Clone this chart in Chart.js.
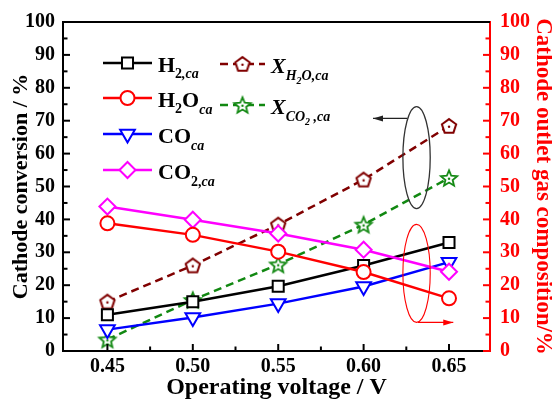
<!DOCTYPE html>
<html>
<head>
<meta charset="utf-8">
<script src="https://cdn.jsdelivr.net/npm/chart.js@4.4.0/dist/chart.umd.min.js"></script>
<style>
html, body { margin: 0; padding: 0; background: #fff; }
</style>
</head>
<body>
<canvas id="c" width="552" height="403"></canvas>
<script>
// operating voltage / V
let voltage = [0.45, 0.50, 0.55, 0.60, 0.65];
let xTicks = [0.45, 0.50, 0.55, 0.60, 0.65];

// cathode outlet gas composition / % (right axis)
let h2_ca = [11.0, 15.0, 19.7, 26.0, 33.0];
let h2o_ca = [38.8, 35.3, 30.2, 24.0, 16.0];
let co_ca = [6.5, 10.2, 14.4, 19.6, 27.0];
let co2_ca = [43.9, 39.9, 35.7, 30.8, 24.1];

// cathode conversion / % (left axis)
let x_h2o = [15.0, 26.0, 38.4, 52.1, 68.4];
let x_co2 = [3.5, 15.5, 26.3, 38.4, 52.6];

let serif = "'Liberation Serif', 'Times New Roman', serif";

// open pentagon with a dot, like the origin plot marker
function pentagon(color) {
    let c = document.createElement('canvas');
    c.width = 20; c.height = 20;
    let g = c.getContext('2d');
    g.beginPath();
    for (let i = 0; i < 5; i++) {
        let a = -Math.PI / 2 + i * 2 * Math.PI / 5;
        let px = 10 + 7.5 * Math.cos(a), py = 10.6 + 7.5 * Math.sin(a);
        if (i === 0) g.moveTo(px, py); else g.lineTo(px, py);
    }
    g.closePath();
    g.fillStyle = '#fff'; g.fill();
    g.lineWidth = 2; g.strokeStyle = color; g.stroke();
    g.beginPath(); g.arc(10, 10.8, 1.2, 0, 2 * Math.PI);
    g.fillStyle = color; g.fill();
    return c;
}

// open star with a dot
function star(color) {
    let c = document.createElement('canvas');
    c.width = 22; c.height = 22;
    let g = c.getContext('2d');
    g.beginPath();
    for (let i = 0; i < 10; i++) {
        let a = -Math.PI / 2 + i * Math.PI / 5;
        let r = (i % 2 === 0) ? 8.5 : 3.8;
        let px = 11 + r * Math.cos(a), py = 11.8 + r * Math.sin(a);
        if (i === 0) g.moveTo(px, py); else g.lineTo(px, py);
    }
    g.closePath();
    g.fillStyle = '#fff'; g.fill();
    g.lineWidth = 1.8; g.strokeStyle = color; g.stroke();
    g.beginPath(); g.arc(11, 11.8, 1.2, 0, 2 * Math.PI);
    g.fillStyle = color; g.fill();
    return c;
}

function pts(values) {
    return values.map((v, i) => ({ x: voltage[i], y: v }));
}

let datasets = [
    { label: 'H2,ca', data: pts(h2_ca), yAxisID: 'y2', borderColor: '#000', pointStyle: 'rect', pointRadius: 7.8, order: 4 },
    { label: 'H2Oca', data: pts(h2o_ca), yAxisID: 'y2', borderColor: '#ff0000', pointStyle: 'circle', pointRadius: 7, order: 1 },
    { label: 'COca', data: pts(co_ca), yAxisID: 'y2', borderColor: '#0000ff', pointStyle: 'triangle', pointRotation: 180, pointRadius: 8.5, order: 3 },
    { label: 'CO2,ca', data: pts(co2_ca), yAxisID: 'y2', borderColor: '#ff00ff', pointStyle: 'rectRot', pointRadius: 8, order: 2 },
    { label: 'XH2O,ca', data: pts(x_h2o), yAxisID: 'y', borderColor: '#800000', pointStyle: pentagon('#800000'), borderDash: [8, 5], order: 6 },
    { label: 'XCO2,ca', data: pts(x_co2), yAxisID: 'y', borderColor: '#118811', pointStyle: star('#118811'), borderDash: [8, 5], order: 5 }
];
datasets.forEach(d => {
    d.borderWidth = 2.5;
    d.backgroundColor = '#fff';
    d.pointBackgroundColor = '#fff';
    d.pointBorderColor = d.borderColor;
    d.pointBorderWidth = 2;
    d.tension = 0;
});

// ticks drawn inside the frame, with minor ticks between
function drawTicks(ctx, scale, values, minors, side, color) {
    let a = scale.chart.chartArea;
    ctx.save();
    ctx.strokeStyle = color;
    ctx.lineWidth = 2;
    let all = values.map(v => [v, 7]).concat(minors.map(v => [v, 4.5]));
    all.forEach(([v, len]) => {
        let p = scale.getPixelForValue(v);
        ctx.beginPath();
        if (side === 'left') { ctx.moveTo(a.left, p); ctx.lineTo(a.left + len, p); }
        if (side === 'right') { ctx.moveTo(a.right, p); ctx.lineTo(a.right - len, p); }
        if (side === 'bottom') { ctx.moveTo(p, a.bottom); ctx.lineTo(p, a.bottom - len); }
        ctx.stroke();
    });
    ctx.restore();
}

let frame = {
    id: 'frame',
    afterDraw(chart) {
        let ctx = chart.ctx, a = chart.chartArea;
        let yVals = chart.scales.y.ticks.map(t => t.value);
        let yMinor = yVals.slice(0, -1).map(v => v + 5);
        drawTicks(ctx, chart.scales.y, yVals, yMinor, 'left', '#000');
        drawTicks(ctx, chart.scales.y2, yVals, yMinor, 'right', '#ff0000');
        let xMinor = xTicks.slice(0, -1).map(v => v + 0.025);
        drawTicks(ctx, chart.scales.x, xTicks, xMinor, 'bottom', '#000');
        // top border
        ctx.save();
        ctx.strokeStyle = '#000';
        ctx.lineWidth = 2;
        ctx.beginPath();
        ctx.moveTo(a.left - 1, a.top);
        ctx.lineTo(a.right, a.top);
        ctx.stroke();
        ctx.restore();
    }
};

// ovals and arrows telling which axis each group uses
function arrow(ctx, x1, y1, x2, y2, color) {
    let ang = Math.atan2(y2 - y1, x2 - x1);
    ctx.strokeStyle = color;
    ctx.fillStyle = color;
    ctx.lineWidth = 1.3;
    ctx.beginPath(); ctx.moveTo(x1, y1); ctx.lineTo(x2, y2); ctx.stroke();
    ctx.beginPath();
    ctx.moveTo(x2, y2);
    ctx.lineTo(x2 - 10 * Math.cos(ang) + 3 * Math.sin(ang), y2 - 10 * Math.sin(ang) - 3 * Math.cos(ang));
    ctx.lineTo(x2 - 10 * Math.cos(ang) - 3 * Math.sin(ang), y2 - 10 * Math.sin(ang) + 3 * Math.cos(ang));
    ctx.closePath(); ctx.fill();
}

let guides = {
    id: 'guides',
    afterDatasetsDraw(chart) {
        let ctx = chart.ctx, sx = chart.scales.x, sy = chart.scales.y;
        ctx.save();
        // black oval: conversion curves -> left axis
        let cx = sx.getPixelForValue(0.631), rx = sx.getPixelForValue(0.639) - cx;
        let cy = sy.getPixelForValue(58.8), ry = sy.getPixelForValue(43.3) - cy;
        ctx.strokeStyle = '#333'; ctx.lineWidth = 1.3;
        ctx.beginPath(); ctx.ellipse(cx, cy, rx, ry, 0, 0, 2 * Math.PI); ctx.stroke();
        arrow(ctx, sx.getPixelForValue(0.6255), sy.getPixelForValue(70.7), sx.getPixelForValue(0.6055), sy.getPixelForValue(70.7), '#222');
        // red oval: composition curves -> right axis
        cy = sy.getPixelForValue(23.6); ry = sy.getPixelForValue(8.7) - cy;
        ctx.strokeStyle = '#ff0000'; ctx.lineWidth = 1.1;
        ctx.beginPath(); ctx.ellipse(cx, cy, rx, ry, 0, 0, 2 * Math.PI); ctx.stroke();
        arrow(ctx, sx.getPixelForValue(0.6318), sy.getPixelForValue(8.7), sx.getPixelForValue(0.6525), sy.getPixelForValue(8.7), '#ff0000');
        ctx.restore();
    }
};

// text with subscripts: [text, size, italic, drop]
function richText(ctx, x, y, parts) {
    parts.forEach(p => {
        ctx.font = (p[2] ? 'italic ' : '') + 'bold ' + p[1] + 'px ' + serif;
        ctx.fillText(p[0], x, y + p[3]);
        x += ctx.measureText(p[0]).width;
    });
}

let legendRows = [
    { ds: 0, x: 40, y: 41, text: [['H', 22, false, 0], ['2', 14, false, 6], [',ca', 14, true, 6]] },
    { ds: 1, x: 40, y: 76, text: [['H', 22, false, 0], ['2', 14, false, 6], ['O', 22, false, 0], ['ca', 14, true, 7]] },
    { ds: 2, x: 40, y: 112, text: [['CO', 22, false, 0], ['ca', 14, true, 7]] },
    { ds: 3, x: 40, y: 148, text: [['CO', 22, false, 0], ['2,', 14, false, 7], ['ca', 14, true, 7]] },
    { ds: 4, x: 157, y: 42, text: [['X', 22, true, 0], ['H', 14, true, 7], ['2', 10, true, 11], ['O,ca', 14, true, 7]] },
    { ds: 5, x: 157, y: 83, text: [['X', 22, true, 0], ['CO', 14, true, 7], ['2', 10, true, 11], [' ,ca', 14, true, 7]] }
];

let legendBox = {
    id: 'legendBox',
    afterDraw(chart) {
        let ctx = chart.ctx, a = chart.chartArea;
        ctx.save();
        legendRows.forEach(r => {
            let d = chart.data.datasets[r.ds];
            let x0 = a.left + r.x, y0 = a.top + r.y;
            let dashed = !!d.borderDash;
            let len = dashed ? 45 : 49;
            ctx.strokeStyle = d.borderColor;
            ctx.lineWidth = 2.5;
            ctx.setLineDash(d.borderDash || []);
            ctx.beginPath(); ctx.moveTo(x0, y0); ctx.lineTo(x0 + len, y0); ctx.stroke();
            ctx.setLineDash([]);
            ctx.fillStyle = '#fff';
            ctx.lineWidth = 2;
            Chart.helpers.drawPoint(ctx, {
                pointStyle: d.pointStyle, rotation: d.pointRotation || 0,
                radius: d.pointRadius || 7, borderWidth: 2
            }, x0 + len / 2, y0);
            ctx.fillStyle = '#000';
            ctx.textBaseline = 'alphabetic';
            richText(ctx, x0 + len + 6, y0 + 9, r.text);
        });
        ctx.restore();
    }
};

new Chart(document.getElementById('c'), {
    type: 'line',
    data: { datasets: datasets },
    options: {
        responsive: false,
        animation: false,
        layout: { padding: { top: 17, left: 0, right: 0, bottom: 0 } },
        plugins: { legend: { display: false }, tooltip: { enabled: false } },
        scales: {
            x: {
                type: 'linear',
                min: 0.424, max: 0.674,
                afterBuildTicks: s => { s.ticks = xTicks.map(v => ({ value: v })); },
                afterFit: s => { s.height = 52; },
                grid: { display: false, drawTicks: false },
                border: { color: '#000', width: 2 },
                ticks: {
                    color: '#000', padding: 4,
                    font: { family: serif, size: 20, weight: 'bold' },
                    callback: v => v.toFixed(2)
                },
                title: {
                    display: true, text: 'Operating voltage / V', color: '#000',
                    font: { family: serif, size: 24, weight: 'bold', lineHeight: 1 },
                    padding: { top: 0, bottom: 3 }
                }
            },
            y: {
                position: 'left',
                min: 0, max: 100,
                afterFit: s => { s.width = 63; },
                grid: { display: false, drawTicks: false },
                border: { color: '#000', width: 2 },
                ticks: {
                    stepSize: 10, color: '#000', padding: 8,
                    font: { family: serif, size: 20, weight: 'bold' }
                },
                title: {
                    display: true, text: 'Cathode conversion / %', color: '#000',
                    font: { family: serif, size: 22, weight: 'bold', lineHeight: 1 },
                    padding: { top: 10, bottom: 0 }
                }
            },
            y2: {
                position: 'right',
                min: 0, max: 100,
                afterFit: s => { s.width = 62; },
                grid: { display: false, drawTicks: false },
                border: { color: '#ff0000', width: 2 },
                ticks: {
                    stepSize: 10, color: '#ff0000', padding: 10,
                    font: { family: serif, size: 20, weight: 'bold' }
                },
                title: {
                    display: true, text: 'Cathode outlet gas composition/%', color: '#ff0000',
                    font: { family: serif, size: 23, weight: 'bold', lineHeight: 1 },
                    padding: { top: -2, bottom: 0 }
                }
            }
        }
    },
    plugins: [frame, guides, legendBox]
});
</script>
</body>
</html>
